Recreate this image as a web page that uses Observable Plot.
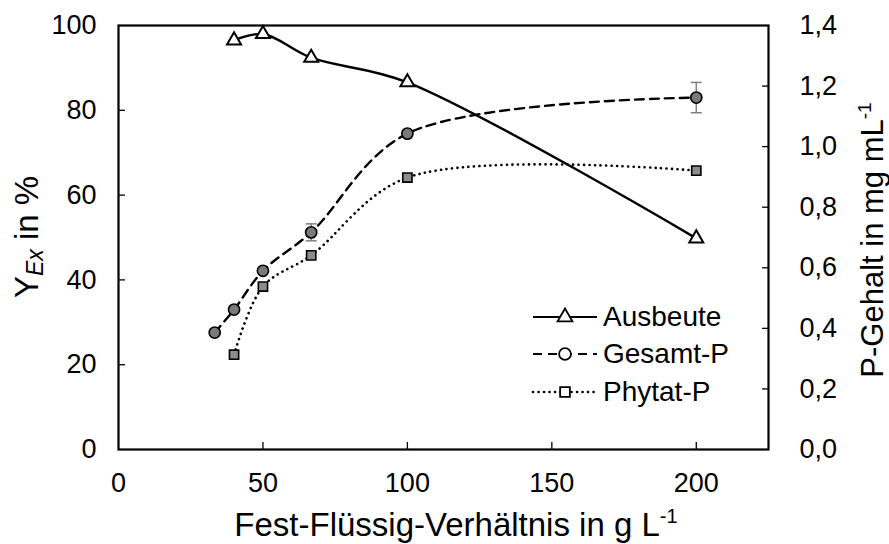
<!DOCTYPE html>
<html>
<head>
<meta charset="utf-8">
<script src="https://cdn.jsdelivr.net/npm/d3@7"></script>
<script src="https://cdn.jsdelivr.net/npm/@observablehq/plot@0.6"></script>
<style>
  html, body { margin: 0; padding: 0; background: #fff; }
  #chart { position: relative; width: 889px; height: 544px; font-family: "Liberation Sans", Arial, sans-serif; }
  #legend { position: absolute; left: 531px; top: 298px; font-size: 28px; color: #000; }
  #legend .row { display: flex; align-items: center; height: 37.5px; }
  #legend svg { display: block; margin-right: 5px; }
</style>
</head>
<body>
<div id="chart"></div>
<script>
// Solid-to-liquid ratio (g/L)
const ratioAusbeute = [40, 50, 66.7, 100, 200];
const ausbeute = [96.5, 98.0, 92.4, 86.6, 49.8]; // Y_Ex in %

const ratioGesamt = [33.3, 40, 50, 66.7, 100, 200];
const gesamtP = [0.386, 0.462, 0.590, 0.717, 1.043, 1.162]; // mg/mL
const gesamtErr = [0, 0, 0, 0.028, 0, 0.050];

const ratioPhytat = [40, 50, 66.7, 100, 200];
const phytatP = [0.313, 0.538, 0.641, 0.898, 0.921]; // mg/mL

const xTicks = [0, 50, 100, 150, 200];
const yTicks = [0, 20, 40, 60, 80, 100];
const rightTicks = [0, 0.2, 0.4, 0.6, 0.8, 1.0, 1.2, 1.4];

// the right axis (0–1.4 mg/mL) shares the left axis' 0–100 range
const pMax = 1.4;
const toLeft = v => v * 100 / pMax;

const dataA = ratioAusbeute.map((x, i) => ({x, y: ausbeute[i]}));
const dataG = ratioGesamt.map((x, i) => ({x, y: toLeft(gesamtP[i]), lo: toLeft(gesamtP[i] - gesamtErr[i]), hi: toLeft(gesamtP[i] + gesamtErr[i]), err: gesamtErr[i]}));
const dataP = ratioPhytat.map((x, i) => ({x, y: toLeft(phytatP[i])}));
const errG = dataG.filter(d => d.err > 0);

// horizontal cap for error bars
const capSymbol = {
  draw(context, size) {
    const w = 5.5;
    context.moveTo(-w, 0);
    context.lineTo(w, 0);
  }
};

const comma = v => v.toFixed(1).replace(".", ",");
const font = '"Liberation Sans", Arial, sans-serif';

const plot = Plot.plot({
  width: 889,
  height: 544,
  marginLeft: 118,
  marginRight: 121,
  marginTop: 25,
  marginBottom: 95,
  style: {fontFamily: font, fontSize: "27px", color: "#000", background: "#fff"},
  x: {domain: [0, 225]},
  y: {domain: [0, 100]},
  marks: [
    Plot.axisX({ticks: xTicks, tickSize: 0, tickPadding: 23, label: null, fontSize: 27}),
    Plot.axisX({ticks: xTicks.filter(t => t > 0), tickSize: -7, text: null, label: null, strokeWidth: 1.3}),
    Plot.axisY({ticks: yTicks, tickSize: 0, tickPadding: 22, label: null, fontSize: 27}),
    Plot.axisY({ticks: yTicks.filter(t => t > 0 && t < 100), tickSize: -7, text: null, label: null, strokeWidth: 1.3}),
    Plot.axisY({anchor: "right", ticks: rightTicks.map(toLeft), tickFormat: d => comma(d * pMax / 100), tickSize: 0, tickPadding: 31, label: null, fontSize: 27}),
    Plot.axisY({anchor: "right", ticks: rightTicks.filter(t => t > 0 && t < pMax).map(toLeft), tickSize: -7, text: null, label: null, strokeWidth: 1.3}),
    Plot.frame({stroke: "#000", strokeWidth: 2.2}),

    // error bars (grey)
    Plot.ruleX(errG, {x: "x", y1: "lo", y2: "hi", stroke: "#808080", strokeWidth: 1.5}),
    Plot.dot(errG, {x: "x", y: "lo", symbol: capSymbol, stroke: "#808080", strokeWidth: 1.5}),
    Plot.dot(errG, {x: "x", y: "hi", symbol: capSymbol, stroke: "#808080", strokeWidth: 1.5}),

    Plot.line(dataA, {x: "x", y: "y", curve: "catmull-rom", stroke: "#000", strokeWidth: 2.4}),
    Plot.line(dataG, {x: "x", y: "y", curve: "catmull-rom", stroke: "#000", strokeWidth: 2.4, strokeDasharray: "9,6"}),
    Plot.line(dataP, {x: "x", y: "y", curve: "catmull-rom", stroke: "#000", strokeWidth: 2.6, strokeDasharray: "0.1,5.4", strokeLinecap: "round"}),

    Plot.dot(dataA, {x: "x", y: "y", symbol: "triangle", r: 5.2, fill: "#fff", stroke: "#000", strokeWidth: 2}),
    Plot.dot(dataG, {x: "x", y: "y", symbol: "circle", r: 5.6, fill: "#7a7a7a", stroke: "#000", strokeWidth: 1.6}),
    Plot.dot(dataP, {x: "x", y: "y", symbol: "square", r: 5.2, fill: "#8c8c8c", stroke: "#000", strokeWidth: 1.6})
  ]
});

const chart = document.getElementById("chart");
chart.appendChild(plot);

// axis titles
const svg = d3.select(plot);

const xt = svg.append("text")
  .attr("x", 456).attr("y", 536)
  .attr("text-anchor", "middle")
  .attr("font-family", font).attr("font-size", 33).attr("fill", "#000");
xt.append("tspan").text("Fest-Flüssig-Verhältnis in g L");
xt.append("tspan").attr("font-size", 20).attr("dy", -13).text("-1");

const yt = svg.append("text")
  .attr("transform", "translate(38,237) rotate(-90)")
  .attr("text-anchor", "middle")
  .attr("font-family", font).attr("font-size", 33).attr("fill", "#000");
yt.append("tspan").text("Y");
yt.append("tspan").attr("font-size", 23).attr("font-style", "italic").attr("dy", 5).text("Ex");
yt.append("tspan").attr("dy", -5).text(" in %");

const rt = svg.append("text")
  .attr("transform", "translate(883,240) rotate(-90)")
  .attr("text-anchor", "middle")
  .attr("font-family", font).attr("font-size", 31).attr("fill", "#000");
rt.append("tspan").text("P-Gehalt in mg mL");
rt.append("tspan").attr("font-size", 19).attr("dy", -12).text("-1");

// legend
const legendItems = [
  {label: "Ausbeute", dash: null, symbol: "triangle"},
  {label: "Gesamt-P", dash: "9,6", symbol: "circle"},
  {label: "Phytat-P", dash: "0.1,5.4", symbol: "square"}
];
const legend = d3.select(chart).append("div").attr("id", "legend");
for (const item of legendItems) {
  const row = legend.append("div").attr("class", "row");
  const s = row.append("svg").attr("width", 67).attr("height", 20);
  s.append("line").attr("x1", 2).attr("x2", 66).attr("y1", 10).attr("y2", 10)
    .attr("stroke", "#000").attr("stroke-width", item.symbol === "square" ? 2.6 : 2.2)
    .attr("stroke-dasharray", item.dash)
    .attr("stroke-linecap", item.symbol === "square" ? "round" : "butt");
  const sym = item.symbol === "triangle" ? d3.symbolTriangle : item.symbol === "circle" ? d3.symbolCircle : d3.symbolSquare;
  s.append("path").attr("transform", "translate(34,10)")
    .attr("d", d3.symbol(sym, item.symbol === "circle" ? 110 : 95)())
    .attr("fill", "#fff").attr("stroke", "#000").attr("stroke-width", 1.8);
  row.append("span").text(item.label);
}
</script>
</body>
</html>
